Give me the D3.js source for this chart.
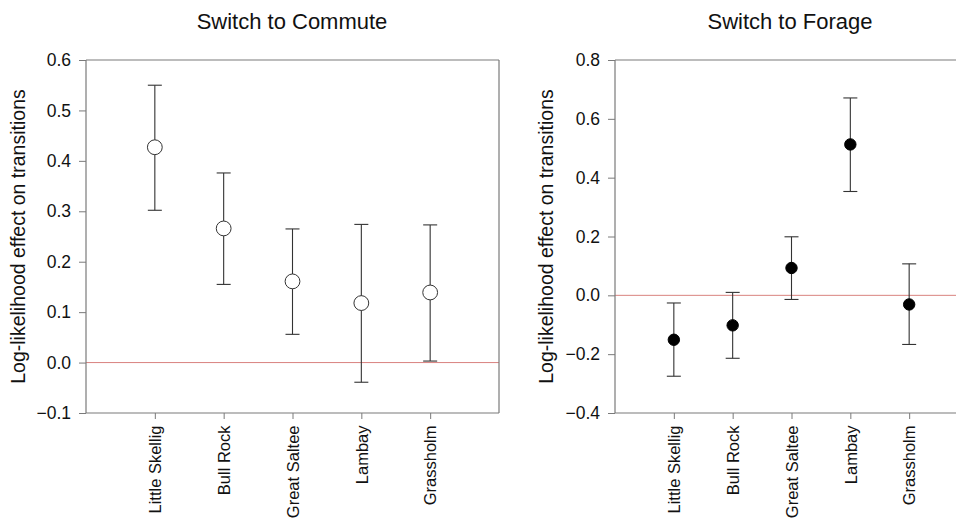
<!DOCTYPE html>
<html>
<head>
<meta charset="utf-8">
<script src="https://cdn.jsdelivr.net/npm/d3@7"></script>
<style>
  html, body { margin: 0; padding: 0; background: #fff; }
  svg { display: block; font-family: Arial, "Liberation Sans", sans-serif; }
</style>
</head>
<body>
<svg id="chart" width="956" height="519"></svg>
<script>
// ---- Data ----
const categories = ["Little Skellig", "Bull Rock", "Great Saltee", "Lambay", "Grassholm"];

const commuteMean  = [0.427, 0.266, 0.161, 0.118, 0.139];
const commuteUpper = [0.550, 0.376, 0.265, 0.274, 0.273];
const commuteLower = [0.302, 0.155, 0.056, -0.039, 0.003];
const commuteTicks = [-0.1, 0.0, 0.1, 0.2, 0.3, 0.4, 0.5, 0.6];

const forageMean  = [-0.151, -0.102, 0.093, 0.513, -0.031];
const forageUpper = [-0.026, 0.010, 0.199, 0.671, 0.107];
const forageLower = [-0.275, -0.214, -0.014, 0.353, -0.167];
const forageTicks = [-0.4, -0.2, 0.0, 0.2, 0.4, 0.6, 0.8];

const titles = ["Switch to Commute", "Switch to Forage"];
const yLabel = "Log-likelihood effect on transitions";

// ---- Drawing ----
const svg = d3.select("#chart");
const FONT = "Arial, 'Liberation Sans', sans-serif";
const frameColor = "#7a7a7a";
const barColor = "#333";
const textColor = "#111";

function panel(opts) {
  const { left, right, top, bottom, yDomain, yTicks, mean, upper, lower, filled, title, titleX, labelX, fmt, closedRight } = opts;
  const g = svg.append("g");
  const x = d3.scaleLinear().domain([0, categories.length + 1]).range([left, right]);
  const y = d3.scaleLinear().domain(yDomain).range([bottom, top]);

  // zero line
  g.append("line")
    .attr("x1", left).attr("x2", right)
    .attr("y1", y(0)).attr("y2", y(0))
    .attr("stroke", "#d9827f").attr("stroke-width", 1);

  // frame
  const fr = g.append("g").attr("stroke", frameColor).attr("stroke-width", 1.2).attr("fill", "none");
  fr.append("line").attr("x1", left).attr("x2", right).attr("y1", top).attr("y2", top);
  fr.append("line").attr("x1", left).attr("x2", right).attr("y1", bottom).attr("y2", bottom);
  fr.append("line").attr("x1", left).attr("x2", left).attr("y1", top).attr("y2", bottom);
  if (closedRight) fr.append("line").attr("x1", right).attr("x2", right).attr("y1", top).attr("y2", bottom);

  // y axis
  const ya = g.append("g").attr("transform", `translate(${left},0)`)
    .call(d3.axisLeft(y).tickValues(yTicks).tickFormat(fmt).tickSize(7).tickSizeOuter(0).tickPadding(8));
  ya.select(".domain").remove();
  ya.selectAll(".tick line").attr("stroke", frameColor);
  ya.selectAll("text").attr("font-size", 17.5).attr("fill", textColor).attr("font-family", FONT);

  // x axis
  const xa = g.append("g").attr("transform", `translate(0,${bottom})`)
    .call(d3.axisBottom(x).tickValues(categories.map((c, i) => i + 1))
      .tickFormat((d) => categories[d - 1]).tickSize(6).tickSizeOuter(0));
  xa.select(".domain").remove();
  xa.selectAll(".tick line").attr("stroke", frameColor);
  xa.selectAll("text")
    .attr("font-size", 16.5).attr("fill", textColor).attr("font-family", FONT)
    .attr("transform", "rotate(-90)")
    .attr("text-anchor", "end")
    .attr("x", -12.5).attr("y", 0).attr("dy", "0.35em");

  // error bars
  const eb = g.append("g").attr("stroke", barColor).attr("stroke-width", 1.1);
  categories.forEach((c, i) => {
    const cx = x(i + 1);
    eb.append("line").attr("x1", cx).attr("x2", cx).attr("y1", y(upper[i])).attr("y2", y(lower[i]));
    eb.append("line").attr("x1", cx - 7).attr("x2", cx + 7).attr("y1", y(upper[i])).attr("y2", y(upper[i]));
    eb.append("line").attr("x1", cx - 7).attr("x2", cx + 7).attr("y1", y(lower[i])).attr("y2", y(lower[i]));
  });

  // points
  g.append("g").selectAll("circle").data(mean).join("circle")
    .attr("cx", (d, i) => x(i + 1)).attr("cy", (d) => y(d))
    .attr("r", filled ? 5.7 : 7.4)
    .attr("fill", filled ? "#000" : "#fff")
    .attr("stroke", filled ? "#000" : "#333").attr("stroke-width", 1);

  // title
  g.append("text").attr("x", titleX).attr("y", 29)
    .attr("text-anchor", "middle").attr("font-size", 22).attr("fill", textColor)
    .attr("font-family", FONT)
    .text(title);

  // y label (baseline at labelX)
  g.append("text")
    .attr("transform", `translate(${labelX},${(top + bottom) / 2}) rotate(-90)`)
    .attr("text-anchor", "middle")
    .attr("font-size", 19.5).attr("fill", textColor).attr("font-family", FONT)
    .text(yLabel);
}

panel({
  left: 86, right: 499, top: 60, bottom: 413,
  yDomain: [-0.1, 0.6], yTicks: commuteTicks, fmt: d3.format(".1f"),
  mean: commuteMean, upper: commuteUpper, lower: commuteLower,
  filled: false, title: titles[0], titleX: 292, labelX: 24.5, closedRight: true
});

panel({
  left: 615, right: 968, top: 60, bottom: 413,
  yDomain: [-0.4, 0.8], yTicks: forageTicks, fmt: d3.format(".1f"),
  mean: forageMean, upper: forageUpper, lower: forageLower,
  filled: true, title: titles[1], titleX: 790, labelX: 552.5, closedRight: false
});
</script>
</body>
</html>
